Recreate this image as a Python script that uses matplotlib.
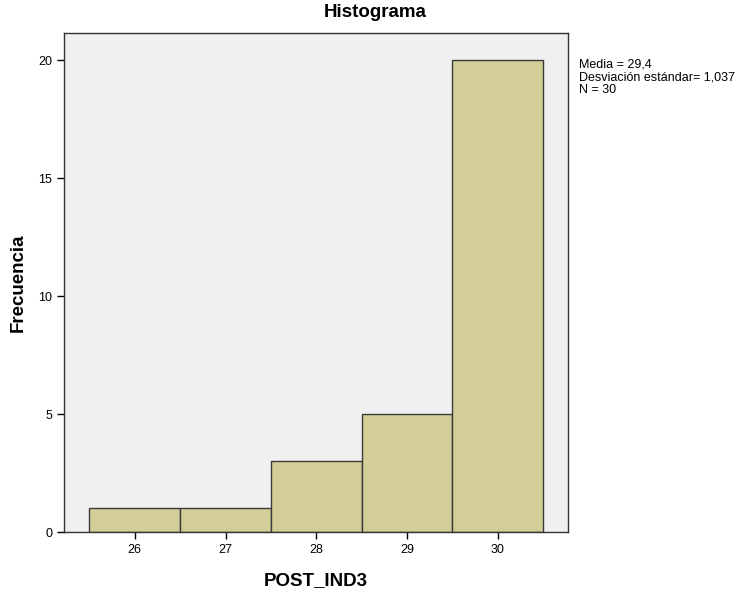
import matplotlib
matplotlib.use("Agg")
import matplotlib.pyplot as plt

plt.rcParams['font.family'] = ['Liberation Sans', 'DejaVu Sans']

# histogram data (bin centers and counts)
valores = [26, 27, 28, 29, 30]
frecuencias = [1, 1, 3, 5, 20]
yticks = [0, 5, 10, 15, 20]
stats_text = "Media = 29,4\nDesviación estándar= 1,037\nN = 30"

fig = plt.figure(figsize=(7.44, 5.91), dpi=100, facecolor='white')
ax = fig.add_axes([0.086, 0.0998, 0.677, 0.844])
ax.set_facecolor('#F0F0F0')

ax.bar(valores, frecuencias, width=1.0, color='#D3CE98', edgecolor='#3A3A3A', linewidth=1.0)

ax.set_xlim(25.22, 30.77)
ax.set_ylim(0, 21.14)
ax.set_xticks(valores)
ax.set_yticks(yticks)
ax.tick_params(axis='both', direction='out', length=5, width=1, labelsize=9, colors='black')

for s in ax.spines.values():
    s.set_color('#333333')
    s.set_linewidth(1.0)

# title is centred on the whole figure, not the axes
fig.text(0.504, 0.979, 'Histograma', fontsize=13.5, fontweight='bold', ha='center', va='center')
ax.set_ylabel('Frecuencia', fontsize=13.5, fontweight='bold', labelpad=8)
ax.set_xlabel('POST_IND3', fontsize=13.5, fontweight='bold', labelpad=12)

fig.text(0.778, 0.901, stats_text, fontsize=9, va='top', ha='left', linespacing=1.08)

fig.savefig('out.png', dpi=100, facecolor='white')
